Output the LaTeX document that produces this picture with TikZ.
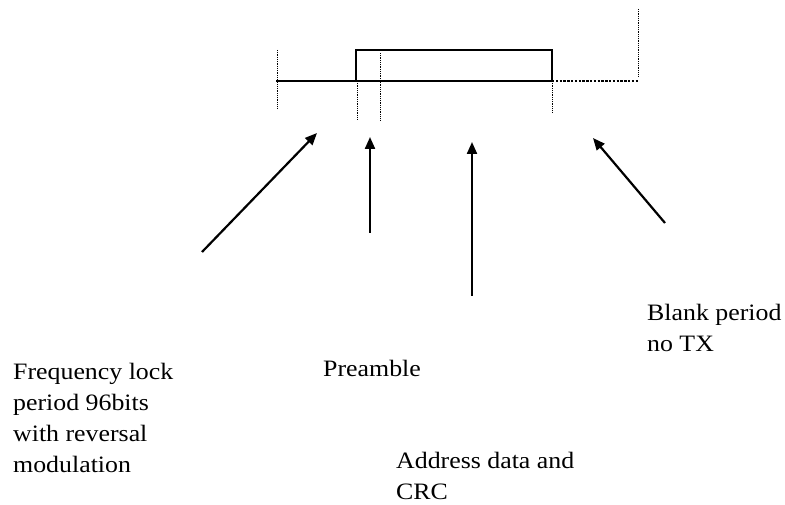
\documentclass[tikz,border=0pt]{standalone}
\usepackage{fontspec}
\setmainfont{Liberation Serif}[FakeStretch=1.1]
\usetikzlibrary{arrows.meta}
\begin{document}
\begin{tikzpicture}[x=1pt,y=-1pt,
  sig/.style={line width=2.8pt},
  tick/.style={line width=0.9pt, dash pattern=on 1pt off 0.8pt},
  ext/.style={line width=1.8pt, dash pattern=on 2.4pt off 1.4pt},
  ptr/.style={line width=2.2pt, -{Triangle[length=12pt,width=10pt]}},
  lbl/.style={font=\fontsize{23.5}{31}\selectfont, align=left, inner sep=0pt, anchor=base west}
]
\useasboundingbox (0,0) rectangle (785,505);

% signal
\coordinate (s0) at (276,81);
\coordinate (rb) at (356,81);
\coordinate (rt) at (552,50);
\coordinate (re) at (552,81);
\coordinate (e1) at (638,81);
\draw[sig] (s0) -- (re);
\draw[sig] (rb) rectangle (rt);
\draw[ext] (re) -- (e1);

% markers
\coordinate (m1a) at (277,50);  \coordinate (m1b) at (277,108);
\coordinate (m2a) at (357,81);  \coordinate (m2b) at (357,120);
\coordinate (m3a) at (380,53);  \coordinate (m3b) at (380,120);
\coordinate (m4a) at (552,81);  \coordinate (m4b) at (552,113);
\coordinate (m5a) at (638,9);   \coordinate (m5b) at (638,77);
\draw[tick] (m1a) -- (m1b);
\draw[tick] (m2a) -- (m2b);
\draw[tick] (m3a) -- (m3b);
\draw[tick] (m4a) -- (m4b);
\draw[tick] (m5a) -- (m5b);

% labels (anchor = baseline of the last line)
\node[lbl] (freq) at (13,472) {Frequency lock\\period 96bits\\with reversal\\modulation};
\node[lbl] (pre) at (323,376) {Preamble};
\node[lbl] (addr) at (396,499) {Address data and\\CRC};
\node[lbl] (blank) at (647,351) {Blank period\\no TX};

% arrows
\coordinate (a1s) at (202,252); \coordinate (a1e) at (317,133);
\coordinate (a2s) at (370,233); \coordinate (a2e) at (370,137);
\coordinate (a3s) at (472,296); \coordinate (a3e) at (472,142);
\coordinate (a4s) at (665,223); \coordinate (a4e) at (593,138);
\draw[ptr] (a1s) -- (a1e);
\draw[ptr] (a2s) -- (a2e);
\draw[ptr] (a3s) -- (a3e);
\draw[ptr] (a4s) -- (a4e);
\end{tikzpicture}
\end{document}
